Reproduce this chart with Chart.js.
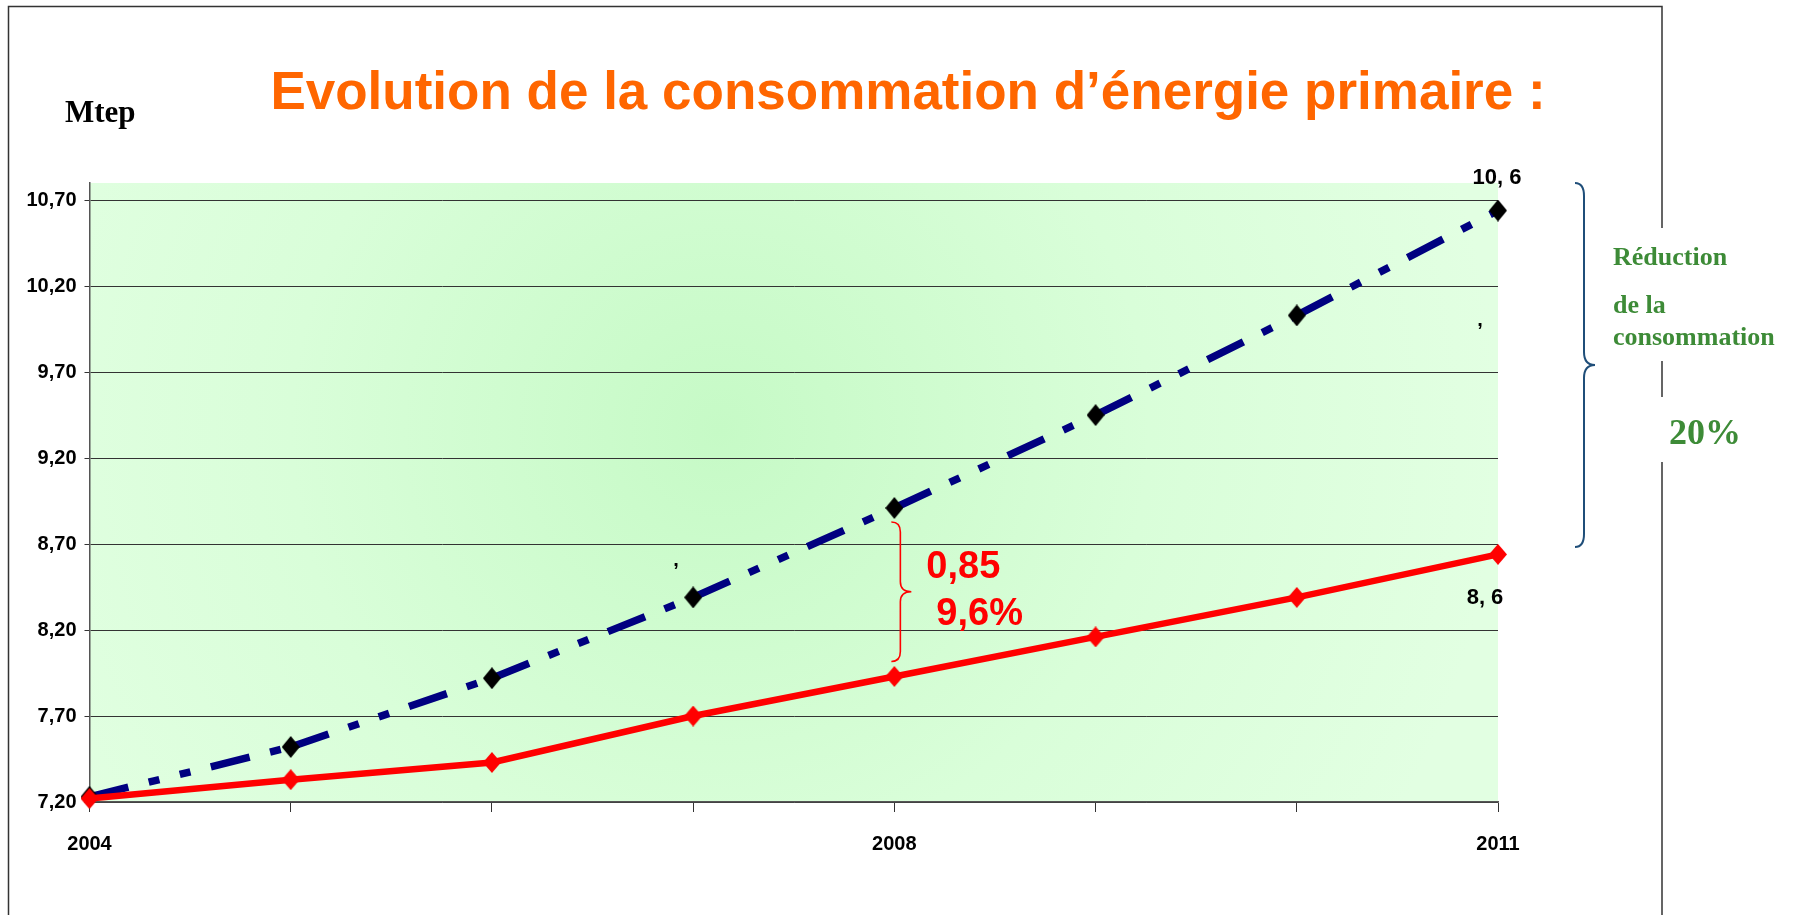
<!DOCTYPE html>
<html><head><meta charset="utf-8">
<script src="https://cdn.jsdelivr.net/npm/chart.js@4.4.0/dist/chart.umd.min.js"></script>
<style>html,body{margin:0;padding:0;background:#fff;overflow:hidden}#wrap{width:1797px;height:915px;position:relative}</style>
</head><body><div id="wrap"><canvas id="c" width="1797" height="915"></canvas></div>
<script>
// ---- data ----
const years = ['2004','2005','2006','2007','2008','2009','2010','2011'];
const shownYears = ['2004','2008','2011'];
const consoReduite = [7.22, 7.33, 7.43, 7.70, 7.93, 8.16, 8.39, 8.64];
const consoTendance = [7.23, 7.52, 7.92, 8.39, 8.91, 9.45, 10.03, 10.64];
const yTicks = [7.2, 7.7, 8.2, 8.7, 9.2, 9.7, 10.2, 10.7];
const yTickLabels = ['7,20','7,70','8,20','8,70','9,20','9,70','10,20','10,70'];
const yMin = 7.2, yMax = 10.8;
const titleText = 'Evolution de la consommation d’énergie primaire :';
const unitText = 'Mtep';
const gapLabels = ['0,85', '9,6%'];
const endLabels = ['10, 6', '8, 6'];
const sideLabels = ['Réduction', 'de la', 'consommation', '20%'];

const SANS = "'Liberation Sans', Arial, sans-serif";
const SERIF = "'Liberation Serif', 'Times New Roman', serif";

// Excel-like (slightly tall) diamond marker
function diamond(w, h, color) {
  const c = document.createElement('canvas');
  c.width = w; c.height = h;
  const x = c.getContext('2d');
  x.fillStyle = color;
  x.beginPath();
  x.moveTo(w / 2, 0); x.lineTo(w, h / 2); x.lineTo(w / 2, h); x.lineTo(0, h / 2);
  x.closePath(); x.fill();
  return c;
}
const redMark = diamond(18, 21, '#FF0000');
const blackMark = diamond(18, 22, '#000000');

function brace(ctx, x0, y0, y1, w, r) {
  const xm = x0 + w * 0.45, mid = (y0 + y1) / 2;
  ctx.beginPath();
  ctx.moveTo(x0, y0);
  ctx.quadraticCurveTo(xm, y0, xm, y0 + r);
  ctx.lineTo(xm, mid - r);
  ctx.quadraticCurveTo(xm, mid, x0 + w, mid);
  ctx.quadraticCurveTo(xm, mid, xm, mid + r);
  ctx.lineTo(xm, y1 - r);
  ctx.quadraticCurveTo(xm, y1, x0, y1);
  ctx.stroke();
}

const decor = {
  id: 'decor',
  beforeDraw(chart) {
    const {ctx, chartArea: a} = chart;
    ctx.save();
    ctx.fillStyle = '#fff';
    ctx.fillRect(0, 0, chart.width, chart.height);
    // outer frame
    ctx.strokeStyle = '#333';
    ctx.lineWidth = 1.5;
    ctx.beginPath();
    ctx.moveTo(8.5, 930); ctx.lineTo(8.5, 6.5); ctx.lineTo(1662, 6.5); ctx.lineTo(1662, 930);
    ctx.stroke();
    // plot background
    const g = ctx.createRadialGradient(720, 430, 0, 720, 430, 780);
    g.addColorStop(0, '#C6FAC6');
    g.addColorStop(0.55, '#D9FED9');
    g.addColorStop(1, '#E2FFE2');
    ctx.fillStyle = g;
    ctx.fillRect(a.left, a.top, a.right - a.left, a.bottom - a.top);
    // unit label
    ctx.fillStyle = '#000';
    ctx.font = 'bold 31px ' + SERIF;
    ctx.textAlign = 'left';
    ctx.textBaseline = 'alphabetic';
    ctx.fillText(unitText, 65, 122);
    ctx.restore();
  },
  afterDatasetsDraw(chart) {
    const {ctx, chartArea: a} = chart;
    const xs = chart.scales.x, ys = chart.scales.y;
    const px = i => xs.getPixelForValue(i);
    const py = v => ys.getPixelForValue(v);
    ctx.save();
    ctx.textBaseline = 'alphabetic';
    // end labels
    ctx.fillStyle = '#000';
    ctx.font = 'bold 22px ' + SANS;
    ctx.textAlign = 'center';
    ctx.fillText(endLabels[0], px(7) - 1, py(consoTendance[7]) - 27);
    ctx.fillText(endLabels[1], px(7) - 13, py(consoReduite[7]) + 50);
    ctx.font = 'bold 20px ' + SANS;
    ctx.fillText(',', px(3) - 17, py(consoTendance[3]) - 31);
    ctx.fillText(',', px(7) - 18, py(consoTendance[6]) + 11);
    // red brace + gap labels
    const bx = px(4);
    ctx.strokeStyle = '#FF0000';
    ctx.lineWidth = 1.6;
    brace(ctx, bx - 3, py(consoTendance[4]) + 14, py(consoReduite[4]) - 15, 20, 10);
    ctx.fillStyle = '#FF0000';
    ctx.font = 'bold 38px ' + SANS;
    ctx.textAlign = 'left';
    ctx.fillText(gapLabels[0], bx + 32, 578);
    ctx.fillText(gapLabels[1], bx + 42, 625);
    // blue brace on the right
    ctx.strokeStyle = '#1F4E79';
    ctx.lineWidth = 2;
    brace(ctx, a.right + 77, a.top, 547, 20, 13);
    // side text with white backing
    ctx.fillStyle = '#fff';
    ctx.fillRect(1605, 228, 190, 133);
    ctx.fillRect(1650, 397, 110, 65);
    ctx.fillStyle = '#3D8B37';
    ctx.font = 'bold 26px ' + SERIF;
    ctx.textAlign = 'left';
    ctx.fillText(sideLabels[0], 1613, 265);
    ctx.fillText(sideLabels[1], 1613, 313);
    ctx.fillText(sideLabels[2], 1613, 345);
    ctx.font = 'bold 36px ' + SERIF;
    ctx.textAlign = 'center';
    ctx.fillText(sideLabels[3], 1705, 444);
    ctx.restore();
  }
};

new Chart(document.getElementById('c'), {
  type: 'line',
  data: {
    labels: years,
    datasets: [
      {
        label: 'Consommation réduite',
        data: consoReduite,
        borderColor: '#FF0000',
        backgroundColor: '#FF0000',
        borderWidth: 6.5,
        pointStyle: redMark,
        pointRadius: 9,
        tension: 0,
        clip: false
      },
      {
        label: 'Tendance',
        data: consoTendance,
        borderColor: '#000080',
        backgroundColor: '#000000',
        borderWidth: 7.5,
        borderDash: [40, 21, 11, 21, 11, 21],
        borderCapStyle: 'butt',
        segment: { borderDashOffset: c => c.p0DataIndex * 0.001 },
        pointStyle: blackMark,
        pointRadius: 9,
        tension: 0,
        clip: false
      }
    ]
  },
  options: {
    responsive: false,
    animation: false,
    devicePixelRatio: 1,
    events: [],
    layout: { padding: { left: 19, right: 0, top: 0, bottom: 0 } },
    plugins: {
      legend: { display: false },
      tooltip: { enabled: false },
      title: {
        display: true,
        text: titleText,
        color: '#FF6600',
        font: { family: SANS, size: 53, weight: 'bold', lineHeight: 1.2 },
        padding: { top: 62.8, bottom: 56.6 }
      }
    },
    scales: {
      x: {
        type: 'category',
        offset: false,
        grid: { display: true, drawOnChartArea: false, drawTicks: true, tickLength: 10, color: '#333', lineWidth: 1 },
        border: { display: true, color: '#555', width: 1.5 },
        ticks: {
          autoSkip: false, maxRotation: 0, minRotation: 0, padding: 20,
          color: '#000',
          font: { family: SANS, size: 20, weight: 'bold' },
          callback: (v, i) => shownYears.includes(years[i]) ? years[i] : ''
        },
        afterFit: s => { s.height = 113; }
      },
      y: {
        type: 'linear',
        min: yMin, max: yMax,
        grid: { color: '#333', lineWidth: 1, tickLength: 5, drawTicks: true },
        border: { display: true, color: '#555', width: 1.5 },
        afterBuildTicks: s => { s.ticks = yTicks.map(v => ({ value: v })); },
        ticks: {
          padding: 8,
          color: '#000',
          font: { family: SANS, size: 20, weight: 'bold' },
          callback: (v) => { const k = yTicks.findIndex(t => Math.abs(t - v) < 1e-6); return k >= 0 ? yTickLabels[k] : ''; }
        },
        afterFit: s => { s.width = 70.5; }
      },
      yPad: {
        type: 'linear',
        position: 'right',
        display: true,
        grid: { display: false, drawTicks: false },
        border: { display: false },
        ticks: { display: false },
        afterFit: s => { s.width = 299; }
      }
    }
  },
  plugins: [decor]
});
</script>
</body></html>
